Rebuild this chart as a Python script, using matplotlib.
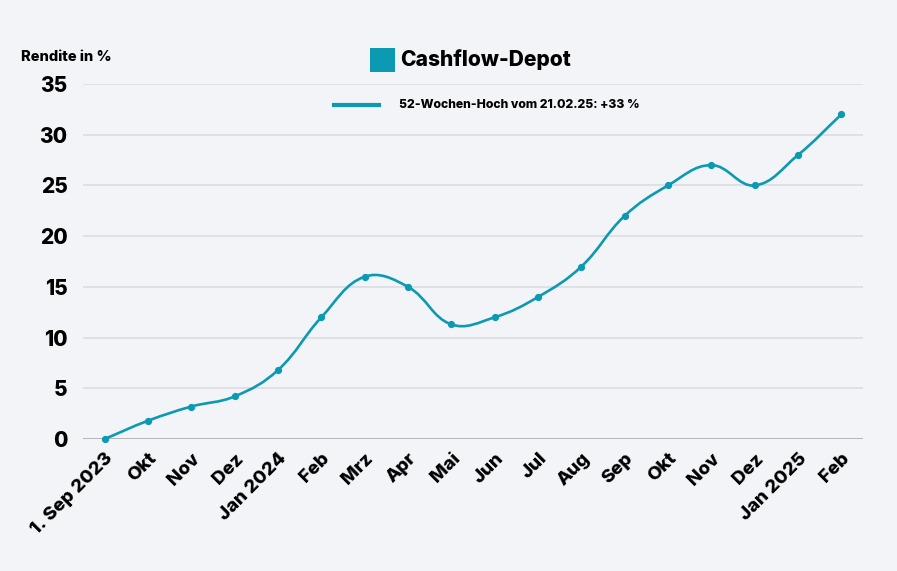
import matplotlib
matplotlib.use("Agg")
import matplotlib.pyplot as plt
from matplotlib.path import Path
from matplotlib.patches import PathPatch, Rectangle
from matplotlib.lines import Line2D
import numpy as np

labels = ["1. Sep 2023", "Okt", "Nov", "Dez", "Jan 2024", "Feb", "Mrz", "Apr", "Mai",
          "Jun", "Jul", "Aug", "Sep", "Okt", "Nov", "Dez", "Jan 2025", "Feb"]
values = [0, 1.8, 3.2, 4.2, 6.8, 12, 16, 15, 11.3, 12, 14, 17, 22, 25, 27, 25, 28, 32]
yticks = [0, 5, 10, 15, 20, 25, 30, 35]
title = "Cashflow-Depot"
legend_text = "52-Wochen-Hoch vom 21.02.25: +33 %"
ylabel = "Rendite in %"

COLOR = "#0c9ab3"
BG = "#f3f4f8"
FONT = ["Inter", "DejaVu Sans"]
plt.rcParams['font.family'] = FONT
W = 'heavy'

fig = plt.figure(figsize=(8.97, 5.71), dpi=100, facecolor=BG)
ax = fig.add_axes([83/897, 1-439/571, (863-83)/897, (439-84)/571])
ax.set_facecolor(BG)

x = np.arange(len(values), dtype=float)
y = np.array(values, dtype=float)

# Chart.js-like cardinal spline (tension 0.4), distances weighted in approx. pixel space
sx, sy = 43.3, 10.15
t = 0.4
n = len(x)
cp_prev = np.zeros((n, 2)); cp_next = np.zeros((n, 2))
for i in range(n):
    p = np.array([x[i], y[i]])
    a = np.array([x[max(i-1, 0)], y[max(i-1, 0)]])
    b = np.array([x[min(i+1, n-1)], y[min(i+1, n-1)]])
    d01 = np.hypot((p[0]-a[0])*sx, (p[1]-a[1])*sy)
    d12 = np.hypot((b[0]-p[0])*sx, (b[1]-p[1])*sy)
    tot = d01 + d12
    s01 = d01/tot if tot else 0
    s12 = d12/tot if tot else 0
    cp_prev[i] = p - t*s01*(b - a)
    cp_next[i] = p + t*s12*(b - a)
verts = [(x[0], y[0])]
codes = [Path.MOVETO]
for i in range(n-1):
    verts += [tuple(cp_next[i]), tuple(cp_prev[i+1]), (x[i+1], y[i+1])]
    codes += [Path.CURVE4]*3
ax.add_patch(PathPatch(Path(verts, codes), facecolor='none', edgecolor=COLOR, lw=1.9,
                       capstyle='round', joinstyle='round', zorder=3))
ax.plot(x, y, 'o', color=COLOR, ms=4.2, zorder=4, clip_on=False)

ax.set_xlim(-0.5, n-0.5)
ax.set_ylim(0, 35)
ax.set_yticks(yticks)
ax.set_yticklabels([str(v) for v in yticks], fontsize=15, fontweight=W)
ax.set_xticks(x)
ax.set_xticklabels(labels, fontsize=13.5, fontweight=W, rotation=45,
                   ha='right', va='top', rotation_mode='anchor')
ax.tick_params(axis='both', length=0)
ax.tick_params(axis='y', pad=11)
ax.tick_params(axis='x', pad=8)
for v in yticks:
    ax.axhline(v, color="#a9a9ae" if v == 0 else "#dcdde2", lw=1.2, zorder=1)
for s in ax.spines.values():
    s.set_visible(False)

fig.text(21/897, 1-57/571, ylabel, fontsize=10.5, fontweight=W, va='center', ha='left')

# title with square
fig.patches.append(Rectangle((370/897, 1-72/571), 25/897, 24/571, transform=fig.transFigure,
                             facecolor=COLOR, edgecolor='none'))
fig.text(400/897, 1-60/571, title, fontsize=15.1, fontweight=W, va='center', ha='left')

# legend
fig.add_artist(Line2D([334/897, 379/897], [1-105/571, 1-105/571], color=COLOR, lw=3,
                      transform=fig.transFigure))
fig.text(399/897, 1-105/571, legend_text, fontsize=8.8, fontweight=W, va='center', ha='left')

fig.savefig("out.png", dpi=100, facecolor=BG)
